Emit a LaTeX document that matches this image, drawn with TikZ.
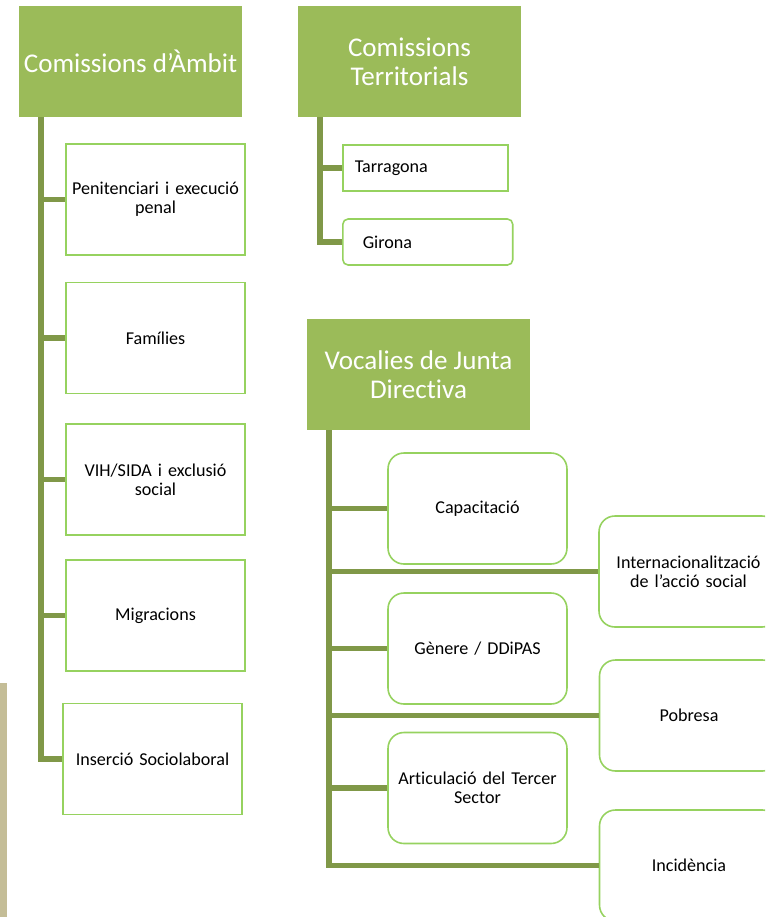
\documentclass[tikz,border=0pt]{standalone}
\usepackage{fontspec}
\setmainfont[Ligatures=NoCommon]{Carlito}
\usepackage{xcolor}
\usepackage{tikz}
\usetikzlibrary{positioning}

\definecolor{headgreen}{RGB}{155,187,89}
\definecolor{trunkgreen}{RGB}{128,152,72}
\definecolor{edgegreen}{RGB}{150,210,95}
\definecolor{sidebeige}{RGB}{196,189,151}

\tikzset{
    head/.style={fill=headgreen, text=white, minimum width=4.46cm, minimum height=2.22cm,
        align=center, inner sep=2pt, font=\fontsize{15.4}{16.6}\selectfont},
    box/.style={draw=edgegreen, line width=0.9pt, fill=white, minimum width=3.58cm,
        minimum height=2.22cm, text width=3.5cm, align=center, inner sep=1pt,
        font=\fontsize{10.3}{10.7}\selectfont},
    rbox/.style={box, rounded corners=9pt},
    link/.style={draw=trunkgreen, line width=3.1pt}
}

\begin{document}
\begin{tikzpicture}[x=0.02cm, y=-0.02cm]
    \useasboundingbox (0,0) rectangle (765,917);
    \clip (0,0) rectangle (765,917);
    \fill[sidebeige] (0,683) rectangle (7,917);

    % Comissions d'Ambit
    \node[head] (amb) at (130.5,61.5) {Comissions d'Àmbit};
    \node[box] (pen) at (155.5,199.5) {Penitenciari i execució\\penal};
    \node[box] (fam) at (155.5,338) {Famílies};
    \node[box] (vih) at (155.5,479.5) {VIH/SIDA i exclusió\\social};
    \node[box] (mig) at (155.5,615.5) {Migracions};
    \node[box] (ins) at (152.5,759) {Inserció Sociolaboral};
    \coordinate (ambT) at (41,117);
    \foreach \b in {pen,fam,vih,mig,ins}
        \draw[link] (ambT) |- (\b.west);

    % Comissions Territorials
    \node[head] (ter) at (409.5,61.5) {Comissions\\Territorials};
    \node[box, anchor=west, minimum width=3.3cm, minimum height=0.92cm, text width=2.82cm,
        inner xsep=0.24cm, align=left] (tar) at (342,168) {Tarragona};
    \node[box, anchor=west, minimum width=3.4cm, minimum height=0.92cm, text width=2.6cm,
        inner xsep=0.4cm, align=left, rounded corners=3pt] (gir) at (342,242) {Girona};
    \coordinate (terT) at (320,117);
    \foreach \b in {tar,gir}
        \draw[link] (terT) |- (\b.west);

    % Vocalies de Junta Directiva
    \node[head] (voc) at (418.5,374.5) {Vocalies de Junta\\Directiva};
    \node[rbox] (cap) at (477.5,508.5) {Capacitació};
    \node[rbox] (int) at (688.5,571.5) {Internacionalització\\de l'acció social};
    \node[rbox] (gen) at (477.5,648.5) {Gènere / DDiPAS};
    \node[rbox] (pob) at (689,715.5) {Pobresa};
    \node[rbox] (art) at (477.5,788) {Articulació del Tercer\\Sector};
    \node[rbox] (inc) at (689,865.5) {Incidència};
    \coordinate (vocT) at (329,430);
    \foreach \b in {cap,int,gen,pob,art,inc}
        \draw[link] (vocT) |- (\b.west);
\end{tikzpicture}
\end{document}
